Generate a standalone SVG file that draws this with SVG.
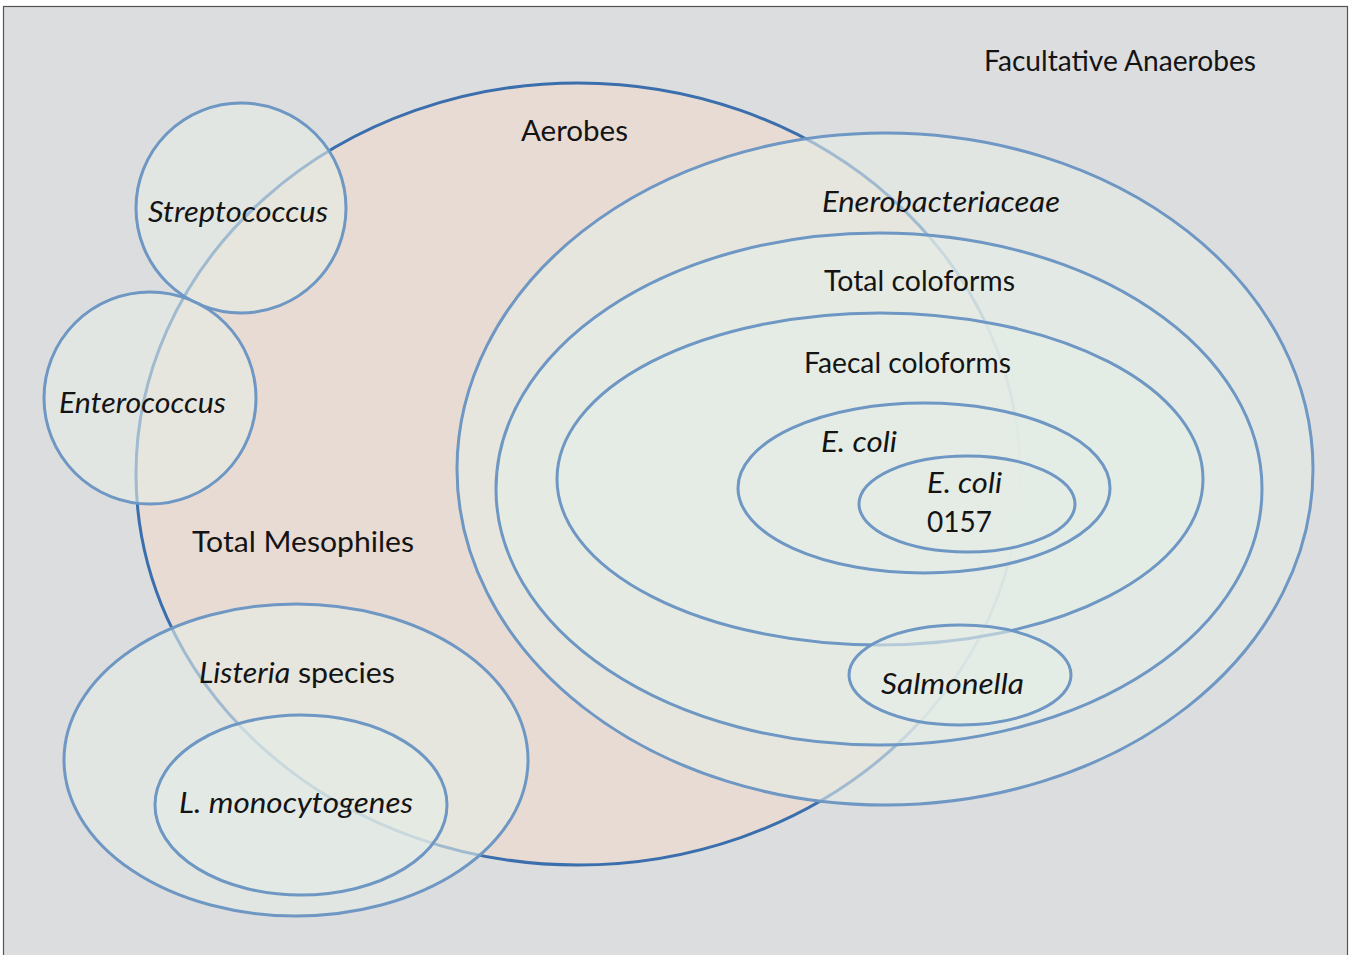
<svg xmlns="http://www.w3.org/2000/svg" width="1351" height="955" viewBox="0 0 1351 955">
<style>
.t{font-family:Lato,"Open Sans","Liberation Sans",sans-serif;font-size:28px;fill:#141414;text-anchor:middle}
.i{font-style:italic}
.c{fill:#E4ECE6;fill-opacity:0.6;stroke:#6E97C3;stroke-width:3}
</style>
<rect x="3.5" y="6.5" width="1344" height="960" fill="#DCDDDF" stroke="#555" stroke-width="1.2"/>
<g id="aerobes">
<ellipse cx="578" cy="474" rx="442" ry="391" fill="#E8DBD3" stroke="#3A6EAC" stroke-width="3"/>
<text class="t" x="574.5" y="141" textLength="107" lengthAdjust="spacingAndGlyphs">Aerobes</text>
<text class="t" x="303" y="552" textLength="222" lengthAdjust="spacingAndGlyphs">Total Mesophiles</text>
</g>
<g id="facultative">
<text class="t" x="1120" y="71" textLength="272" lengthAdjust="spacingAndGlyphs">Facultative Anaerobes</text>
</g>
<g id="streptococcus">
<circle class="c" cx="241" cy="208" r="105"/>
<text class="t i" x="238" y="222" textLength="180" lengthAdjust="spacingAndGlyphs">Streptococcus</text>
</g>
<g id="enterococcus">
<circle class="c" cx="150" cy="398" r="106"/>
<text class="t i" x="142.5" y="413" textLength="167" lengthAdjust="spacingAndGlyphs">Enterococcus</text>
</g>
<g id="enterobacteriaceae">
<ellipse class="c" cx="885" cy="469" rx="428" ry="336"/>
<text class="t i" x="941" y="212" textLength="238" lengthAdjust="spacingAndGlyphs">Enerobacteriaceae</text>
</g>
<g id="total-coliforms">
<ellipse class="c" cx="879" cy="489" rx="383" ry="256"/>
<text class="t" x="919.5" y="291" textLength="191" lengthAdjust="spacingAndGlyphs">Total coloforms</text>
</g>
<g id="faecal-coliforms">
<ellipse class="c" cx="880" cy="479" rx="323" ry="166"/>
<text class="t" x="907.5" y="373" textLength="207" lengthAdjust="spacingAndGlyphs">Faecal coloforms</text>
</g>
<g id="ecoli">
<ellipse class="c" cx="924" cy="488" rx="186" ry="85"/>
<text class="t i" x="859" y="452" textLength="76" lengthAdjust="spacingAndGlyphs">E. coli</text>
</g>
<g id="ecoli-0157">
<ellipse class="c" cx="967" cy="504" rx="108" ry="48"/>
<text class="t i" x="927" y="493" style="text-anchor:start" textLength="75" lengthAdjust="spacingAndGlyphs">E. coli</text>
<text class="t" x="927" y="532" style="text-anchor:start">0157</text>
</g>
<g id="salmonella">
<ellipse class="c" cx="960" cy="675" rx="111" ry="50"/>
<text class="t i" x="952.5" y="694" textLength="143" lengthAdjust="spacingAndGlyphs">Salmonella</text>
</g>
<g id="listeria">
<ellipse class="c" cx="296" cy="760" rx="232" ry="156"/>
<text class="t" x="297" y="683" textLength="196" lengthAdjust="spacingAndGlyphs"><tspan class="i">Listeria</tspan> species</text>
</g>
<g id="l-monocytogenes">
<ellipse class="c" cx="301" cy="805" rx="146" ry="90"/>
<text class="t i" x="296" y="813" textLength="234" lengthAdjust="spacingAndGlyphs">L. monocytogenes</text>
</g>
</svg>
